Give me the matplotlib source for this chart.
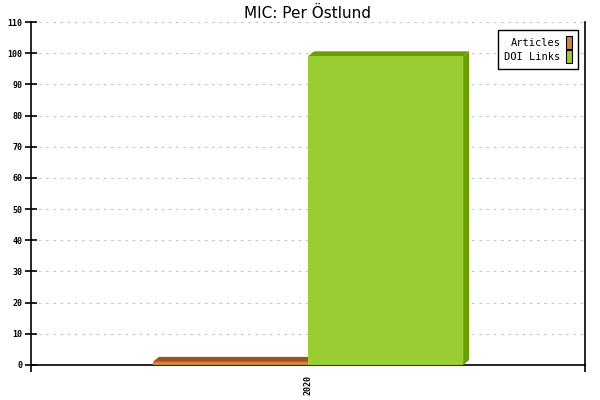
import numpy as np
import matplotlib
matplotlib.use("Agg")
import matplotlib.pyplot as plt
from matplotlib.patches import Polygon, Rectangle

# データ
categories = ["2020"]
series_names = ["Articles", "DOI Links"]
articles = [1]
doi_links = [99]
front_colors = ["#CD853F", "#9ACD32"]
dark_colors = ["#9C5218", "#6A9E05"]

y_ticks = list(range(0, 111, 10))

fig = plt.figure(figsize=(6, 4), dpi=100)
ax = fig.add_axes([31 / 600, 35 / 400, 554 / 600, 343 / 400])

x = np.arange(len(categories))
bar_w = 0.28
offsets = [-bar_w / 2, bar_w / 2]
values = [articles, doi_links]

ax.set_xlim(-0.5, 0.5)
ax.set_ylim(0, 110)

# 奥行き (ピクセル -> データ単位)
dx = 6 / 554 * 1.0
dy = 5 / 343 * 110

# 描画順: 左から右 (右のバーが左の側面を隠す)
for vals, off, fc, dc, name in zip(values, offsets, front_colors, dark_colors, series_names):
    for xi, v in zip(x, vals):
        x0 = xi + off - bar_w / 2
        x1 = x0 + bar_w
        top = Polygon([(x0, v), (x1, v), (x1 + dx, v + dy), (x0 + dx, v + dy)],
                      closed=True, facecolor=dc, edgecolor="none", zorder=3)
        side = Polygon([(x1, 0), (x1 + dx, dy), (x1 + dx, v + dy), (x1, v)],
                       closed=True, facecolor=dc, edgecolor="none", zorder=3)
        ax.add_patch(top)
        ax.add_patch(side)
        ax.bar(xi + off, v, width=bar_w, color=fc, zorder=4, linewidth=0)

# グリッド
for t in y_ticks[1:]:
    ax.axhline(t, color="#C8C8C8", linestyle=(0, (2.5, 4)), linewidth=0.8, zorder=1)

# 軸
ax.spines["top"].set_visible(False)
for s in ["left", "right", "bottom"]:
    ax.spines[s].set_linewidth(1.2)
    ax.spines[s].set_color("black")

ax.set_yticks(y_ticks)
ax.set_yticklabels([str(t) for t in y_ticks], fontfamily="DejaVu Sans Mono",
                   fontsize=6, fontweight="bold")
ax.tick_params(axis="y", direction="inout", length=8, width=1.2, pad=2)

ax.set_xticks([-0.5, 0.5])
ax.set_xticklabels(["", ""])
ax.tick_params(axis="x", which="major", direction="out", length=5, width=1.2)
ax.set_xticks(x, minor=True)
ax.set_xticklabels(categories, minor=True, rotation=90, fontfamily="DejaVu Sans Mono",
                   fontsize=6, fontweight="bold")
ax.tick_params(axis="x", which="minor", length=0, pad=7)

ax.set_title("MIC: Per Östlund", fontsize=11, pad=3, fontfamily="DejaVu Sans")

# 凡例
handles = [Rectangle((0, 0), 1, 1, facecolor=c, edgecolor="black", linewidth=0.8)
           for c in front_colors]
leg = ax.legend(handles, series_names, loc="upper right", markerfirst=False,
                prop={"family": "DejaVu Sans Mono", "size": 7.5}, fancybox=False,
                edgecolor="black", framealpha=1, handlelength=0.55, handleheight=1.5,
                handletextpad=0.5, borderpad=0.6, labelspacing=0.15,
                borderaxespad=0, bbox_to_anchor=(0.987, 0.977))
leg.get_frame().set_linewidth(1.0)

fig.savefig("out.png", dpi=100)
